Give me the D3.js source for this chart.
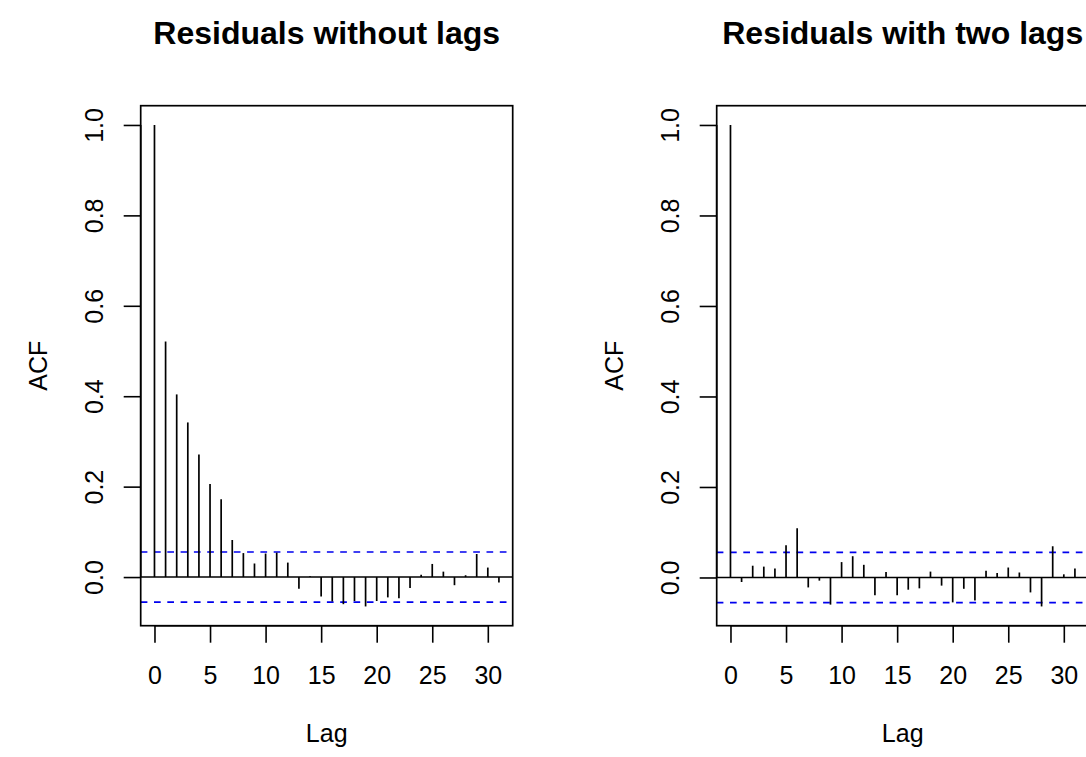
<!DOCTYPE html>
<html>
<head>
<meta charset="utf-8">
<script src="https://cdn.jsdelivr.net/npm/d3@7"></script>
<style>
  html, body { margin: 0; padding: 0; background: #fff; }
  svg { display: block; }
  text { font-family: "Liberation Sans", Arial, Helvetica, sans-serif; fill: #000; }
</style>
</head>
<body>
<svg id="chart" width="1086" height="757"></svg>
<script>
// ---- data ----
const titles = ["Residuals without lags", "Residuals with two lags"];
const lags = d3.range(0, 32);
const acfNoLags = [1.000, 0.521, 0.404, 0.342, 0.271, 0.206, 0.172, 0.082, 0.053, 0.030,
                   0.052, 0.054, 0.032, -0.026, 0.002, -0.043, -0.054, -0.060, -0.053, -0.065,
                   -0.053, -0.045, -0.047, -0.024, 0.005, 0.029, 0.012, -0.018, 0.004, 0.051,
                   0.021, -0.012];
const acfTwoLags = [1.000, -0.010, 0.026, 0.024, 0.020, 0.071, 0.109, -0.022, -0.007, -0.060,
                    0.034, 0.047, 0.028, -0.039, 0.012, -0.039, -0.027, -0.024, 0.013, -0.018,
                    -0.055, -0.025, -0.051, 0.015, 0.010, 0.022, 0.011, -0.033, -0.064, 0.069,
                    0.007, 0.020];
const confBound = 0.0554;
const xTicks = [0, 5, 10, 15, 20, 25, 30];
const yTicks = [0.0, 0.2, 0.4, 0.6, 0.8, 1.0];
const xLabel = "Lag";
const yLabel = "ACF";

// ---- layout ----
const svg = d3.select("#chart");
const panelOffset = 576;
const box = { left: 140.7, right: 512.7, top: 105.7, bottom: 625.7 };
const series = [acfNoLags, acfTwoLags];

function pad(ext) { const r = ext[1] - ext[0]; return [ext[0] - 0.04 * r, ext[1] + 0.04 * r]; }

series.forEach((vals, p) => {
  const g = svg.append("g").attr("transform", `translate(${p * panelOffset},0)`);
  const x = d3.scaleLinear().domain(pad(d3.extent(lags))).range([box.left, box.right]);
  const yExt = [Math.min(-confBound, d3.min(vals)), Math.max(confBound, d3.max(vals))];
  const y = d3.scaleLinear().domain(pad(yExt)).range([box.bottom, box.top]);

  // title
  g.append("text")
    .attr("x", (box.left + box.right) / 2).attr("y", 44)
    .attr("text-anchor", "middle")
    .style("font-size", "32px").style("font-weight", "bold")
    .text(titles[p]);

  // zero line
  g.append("line")
    .attr("x1", box.left).attr("x2", box.right)
    .attr("y1", y(0)).attr("y2", y(0))
    .attr("stroke", "#000").attr("stroke-width", 1.6);

  // confidence bounds
  [confBound, -confBound].forEach(c => {
    g.append("line")
      .attr("x1", box.left).attr("x2", box.right)
      .attr("y1", y(c)).attr("y2", y(c))
      .attr("stroke", "#0000ee").attr("stroke-width", 1.7)
      .attr("stroke-dasharray", "6.7,6.6");
  });

  // bars
  g.selectAll("line.bar").data(vals).enter().append("line")
    .attr("class", "bar")
    .attr("x1", (d, i) => x(lags[i])).attr("x2", (d, i) => x(lags[i]))
    .attr("y1", y(0)).attr("y2", d => y(d))
    .attr("stroke", "#000").attr("stroke-width", 1.7);

  // box
  g.append("rect")
    .attr("x", box.left).attr("y", box.top)
    .attr("width", box.right - box.left).attr("height", box.bottom - box.top)
    .attr("fill", "none").attr("stroke", "#000").attr("stroke-width", 1.7);

  // x axis
  const xAxis = d3.axisBottom(x).tickValues(xTicks).tickSize(17).tickPadding(0).tickFormat(d3.format("d"));
  const xa = g.append("g").attr("transform", `translate(0,${box.bottom})`).call(xAxis);
  xa.select(".domain").attr("d", `M${x(xTicks[0])},0H${x(xTicks[xTicks.length - 1])}`)
    .attr("stroke-width", 1.6);
  xa.selectAll(".tick line").attr("stroke-width", 1.6);
  xa.selectAll(".tick text").attr("y", 58).attr("dy", 0)
    .style("font-size", "25px").style("font-family", "Liberation Sans, Arial, sans-serif");

  // y axis
  const yAxis = d3.axisLeft(y).tickValues(yTicks).tickSize(17).tickFormat(d3.format(".1f"));
  const ya = g.append("g").attr("transform", `translate(${box.left},0)`).call(yAxis);
  ya.select(".domain").attr("d", `M0,${y(yTicks[0])}V${y(yTicks[yTicks.length - 1])}`)
    .attr("stroke-width", 1.6);
  ya.selectAll(".tick line").attr("stroke-width", 1.6);
  ya.selectAll(".tick text")
    .attr("x", null).attr("dy", 0)
    .attr("transform", "translate(-38,0) rotate(-90)")
    .attr("text-anchor", "middle")
    .style("font-size", "25px").style("font-family", "Liberation Sans, Arial, sans-serif");

  // axis labels
  g.append("text")
    .attr("x", (box.left + box.right) / 2).attr("y", 742)
    .attr("text-anchor", "middle").style("font-size", "25px")
    .text(xLabel);
  g.append("text")
    .attr("transform", `translate(47,${(box.top + box.bottom) / 2}) rotate(-90)`)
    .attr("text-anchor", "middle").style("font-size", "25px")
    .text(yLabel);
});
</script>
</body>
</html>
